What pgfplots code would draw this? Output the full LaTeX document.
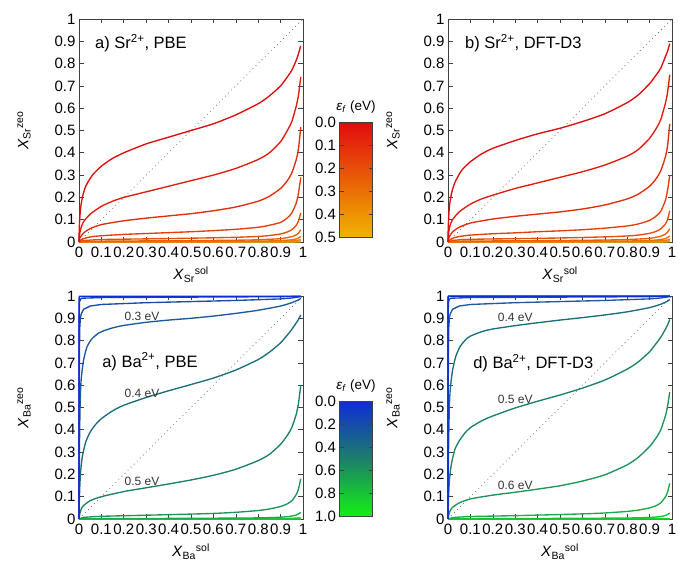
\documentclass[border=0pt]{standalone}
\usepackage{fontspec}
\setmainfont{Liberation Sans}
\usepackage{pgfplots}
\pgfplotsset{compat=1.18}
\definecolor{sr0}{RGB}{222,12,15}
\definecolor{sr1}{RGB}{225,27,14}
\definecolor{sr2}{RGB}{228,44,12}
\definecolor{sr3}{RGB}{231,61,11}
\definecolor{sr4}{RGB}{233,78,9}
\definecolor{sr5}{RGB}{234,95,8}
\definecolor{sr6}{RGB}{235,112,6}
\definecolor{sr7}{RGB}{236,129,5}
\definecolor{sr8}{RGB}{238,146,3}
\definecolor{sr9}{RGB}{239,163,2}
\definecolor{sr10}{RGB}{240,180,0}
\definecolor{ba0}{RGB}{15,45,215}
\definecolor{ba1}{RGB}{18,61,193}
\definecolor{ba2}{RGB}{22,76,171}
\definecolor{ba3}{RGB}{28,90,160}
\definecolor{ba4}{RGB}{28,110,126}
\definecolor{ba5}{RGB}{29,128,106}
\definecolor{ba6}{RGB}{27,149,89}
\definecolor{ba7}{RGB}{25,172,72}
\definecolor{ba8}{RGB}{24,195,55}
\definecolor{ba9}{RGB}{22,217,37}
\definecolor{ba10}{RGB}{20,240,20}
\newcommand\ticksize{\fontsize{15}{18}\selectfont}
\pgfplotsset{
 colorbar/width=33pt,
 panel/.style={
  scale only axis, width=224pt, height=223pt,
  xmin=0, xmax=1, ymin=0, ymax=1,
  xtick={0,0.1,0.2,0.3,0.4,0.5,0.6,0.7,0.8,0.9,1},
  xticklabels={0,0.1,0.2,0.3,0.4,0.5,0.6,0.7,0.8,0.9,1},
  ytick={0,0.1,0.2,0.3,0.4,0.5,0.6,0.7,0.8,0.9,1},
  yticklabels={0,0.1,0.2,0.3,0.4,0.5,0.6,0.7,0.8,0.9,1},
  tick align=inside, xtick pos=both, ytick pos=both,
  major tick length=4.5pt,
  tick label style={font=\ticksize},
  xticklabel style={yshift=-1.5pt},
  label style={font=\ticksize},
  ylabel style={at={(axis description cs:-0.245,0.5)}, anchor=center},
  xlabel style={at={(axis description cs:0.5,-0.097)}, anchor=north},
  axis line style={line width=0.7pt, black!75},
  every tick/.append style={line width=0.6pt, black!75},
  clip=false,
  every axis plot/.append style={line width=1.35pt, no markers},
 },
 sm/.style={smooth, tension=0.4},
 diag/.style={black!55, line width=0.8pt, dash pattern=on 0.8pt off 3.5pt},
 cbar/.style={colorbar style={at={(parent axis.north east)}, anchor=north west,
   xshift=28pt, yshift=#1, scale only axis, height=115pt,
   y dir=reverse, yticklabel pos=left, ytick pos=both, tick align=inside,
   major tick length=4pt, tick label style={font=\ticksize},
   axis line style={line width=0.7pt, black!75},
   every tick/.append style={line width=0.6pt, black!75},
   title={\textit{ε}\textsubscript{\textit{f}} (eV)},
   title style={font=\fontsize{13.5}{16}\selectfont, at={(0.5,1)}, anchor=south, yshift=-1pt}}},
}
\begin{document}
\begin{tikzpicture}[x=1pt,y=1pt]
\path[use as bounding box] (0,0) rectangle (678,562);
% ---------------- a) Sr PBE
\begin{axis}[panel, at={(79pt,543pt)}, anchor=north west,
  xlabel={\textit{X}\textsubscript{Sr}\textsuperscript{sol}}, ylabel={\textit{X}\textsubscript{Sr}\textsuperscript{zeo}},
  colormap={srmap}{rgb255=(226,10,15) rgb255=(240,180,0)},
  colorbar, point meta min=0, point meta max=0.5, cbar=-103pt,
  colorbar style={ytick={0,0.1,0.2,0.3,0.4,0.5}, yticklabels={0.0,0.1,0.2,0.3,0.4,0.5}}]
\addplot[diag] coordinates {(0,0) (1,1)};
\addplot[sr10] coordinates {(0,0) (0.9,0.0002) (0.99,0.001)};
\addplot[sr9] coordinates {(0,0) (0.9,0.0006) (0.98,0.0015) (0.99,0.002)};
\addplot[sr8] coordinates {(0,0) (0.5,0.0005) (0.9,0.0013) (0.95,0.002) (0.98,0.0035) (0.99,0.005)};
\addplot[sr7] coordinates {(0,0) (0.5,0.001) (0.8,0.002) (0.9,0.003) (0.95,0.005) (0.98,0.008) (0.99,0.012)};
\addplot[sr6,sm] coordinates {(0,0) (0.1,0.0015) (0.5,0.0025) (0.8,0.004) (0.9,0.0065) (0.95,0.01) (0.97,0.014) (0.98,0.018) (0.99,0.025)};
\addplot[sr5,sm] coordinates {(0,0) (0.05,0.003) (0.3,0.005) (0.5,0.006) (0.7,0.008) (0.8,0.01) (0.9,0.015) (0.95,0.024) (0.97,0.032) (0.98,0.04) (0.99,0.055)};
\addplot[sr4,sm] coordinates {(0,0) (0.02,0.006) (0.1,0.011) (0.3,0.014) (0.5,0.017) (0.7,0.021) (0.8,0.025) (0.85,0.029) (0.9,0.036) (0.93,0.045) (0.95,0.055) (0.97,0.075) (0.98,0.095) (0.99,0.13)};
\addplot[sr3,sm] coordinates {(0,0) (0.01,0.01) (0.03,0.018) (0.06,0.024) (0.1,0.028) (0.2,0.034) (0.3,0.038) (0.4,0.042) (0.5,0.046) (0.6,0.051) (0.7,0.057) (0.8,0.066) (0.85,0.075) (0.9,0.088) (0.93,0.108) (0.95,0.13) (0.97,0.175) (0.98,0.22) (0.99,0.29)};
\addplot[sr2,sm] coordinates {(0,0) (0.005,0.02) (0.02,0.04) (0.05,0.06) (0.1,0.078) (0.2,0.095) (0.3,0.107) (0.4,0.117) (0.5,0.127) (0.6,0.14) (0.7,0.157) (0.8,0.183) (0.85,0.205) (0.9,0.24) (0.93,0.275) (0.95,0.31) (0.97,0.37) (0.98,0.42) (0.99,0.515)};
\addplot[sr1,sm] coordinates {(0,0) (0.002,0.03) (0.008,0.06) (0.02,0.09) (0.05,0.125) (0.1,0.16) (0.15,0.183) (0.2,0.20) (0.3,0.225) (0.4,0.25) (0.5,0.275) (0.6,0.30) (0.7,0.33) (0.8,0.37) (0.85,0.40) (0.9,0.45) (0.93,0.50) (0.95,0.54) (0.97,0.61) (0.98,0.66) (0.99,0.74)};
\addplot[sr0,sm] coordinates {(0,0) (0.001,0.05) (0.003,0.1) (0.007,0.15) (0.015,0.2) (0.03,0.25) (0.06,0.3) (0.1,0.34) (0.15,0.375) (0.2,0.40) (0.3,0.44) (0.4,0.47) (0.5,0.50) (0.6,0.53) (0.7,0.57) (0.8,0.62) (0.85,0.655) (0.9,0.70) (0.93,0.74) (0.95,0.77) (0.97,0.815) (0.98,0.845) (0.99,0.88)};
\node[anchor=west, inner sep=0pt, font=\fontsize{16.5}{19}\selectfont] at (axis description cs:0.071,0.892) {a) Sr\textsuperscript{2+}, PBE};
\end{axis}
% ---------------- b) Sr DFT-D3
\begin{axis}[panel, at={(448pt,543pt)}, anchor=north west,
  xlabel={\textit{X}\textsubscript{Sr}\textsuperscript{sol}}, ylabel={\textit{X}\textsubscript{Sr}\textsuperscript{zeo}}]
\addplot[diag] coordinates {(0,0) (1,1)};
\addplot[sr10] coordinates {(0,0) (0.9,0.0003) (0.99,0.001)};
\addplot[sr9] coordinates {(0,0) (0.9,0.0008) (0.98,0.0018) (0.99,0.0025)};
\addplot[sr8] coordinates {(0,0) (0.5,0.0006) (0.9,0.0016) (0.95,0.0025) (0.98,0.004) (0.99,0.006)};
\addplot[sr7] coordinates {(0,0) (0.5,0.0012) (0.8,0.0023) (0.9,0.0035) (0.95,0.0055) (0.98,0.009) (0.99,0.013)};
\addplot[sr6,sm] coordinates {(0,0) (0.1,0.0017) (0.5,0.0028) (0.8,0.0045) (0.9,0.007) (0.95,0.011) (0.97,0.015) (0.98,0.02) (0.99,0.027)};
\addplot[sr5,sm] coordinates {(0,0) (0.05,0.0035) (0.3,0.0055) (0.5,0.0066) (0.7,0.0088) (0.8,0.011) (0.9,0.0165) (0.95,0.026) (0.97,0.035) (0.98,0.044) (0.99,0.06)};
\addplot[sr4,sm] coordinates {(0,0) (0.02,0.007) (0.1,0.012) (0.3,0.015) (0.5,0.018) (0.7,0.023) (0.8,0.027) (0.85,0.031) (0.9,0.039) (0.93,0.048) (0.95,0.059) (0.97,0.08) (0.98,0.1) (0.99,0.14)};
\addplot[sr3,sm] coordinates {(0,0) (0.01,0.011) (0.03,0.02) (0.06,0.026) (0.1,0.031) (0.2,0.037) (0.3,0.041) (0.4,0.046) (0.5,0.05) (0.6,0.055) (0.7,0.062) (0.8,0.072) (0.85,0.081) (0.9,0.097) (0.93,0.117) (0.95,0.138) (0.97,0.185) (0.98,0.23) (0.99,0.30)};
\addplot[sr2,sm] coordinates {(0,0) (0.005,0.022) (0.02,0.045) (0.05,0.066) (0.1,0.085) (0.2,0.103) (0.3,0.115) (0.4,0.125) (0.5,0.135) (0.6,0.148) (0.7,0.166) (0.8,0.193) (0.85,0.215) (0.9,0.25) (0.93,0.285) (0.95,0.32) (0.97,0.38) (0.98,0.43) (0.99,0.53)};
\addplot[sr1,sm] coordinates {(0,0) (0.002,0.035) (0.008,0.07) (0.02,0.1) (0.05,0.135) (0.1,0.17) (0.15,0.193) (0.2,0.21) (0.3,0.24) (0.4,0.265) (0.5,0.29) (0.6,0.315) (0.7,0.345) (0.8,0.385) (0.85,0.415) (0.9,0.465) (0.93,0.51) (0.95,0.55) (0.97,0.62) (0.98,0.67) (0.99,0.75)};
\addplot[sr0,sm] coordinates {(0,0) (0.001,0.06) (0.003,0.11) (0.007,0.165) (0.015,0.215) (0.03,0.265) (0.06,0.32) (0.1,0.36) (0.15,0.395) (0.2,0.42) (0.3,0.455) (0.4,0.485) (0.5,0.51) (0.6,0.54) (0.7,0.575) (0.8,0.625) (0.85,0.66) (0.9,0.71) (0.93,0.75) (0.95,0.78) (0.97,0.83) (0.98,0.855) (0.99,0.89)};
\node[anchor=west, inner sep=0pt, font=\fontsize{16.5}{19}\selectfont] at (axis description cs:0.076,0.892) {b) Sr\textsuperscript{2+}, DFT-D3};
\end{axis}
% ---------------- c) Ba PBE
\begin{axis}[panel, at={(79pt,266pt)}, anchor=north west,
  xlabel={\textit{X}\textsubscript{Ba}\textsuperscript{sol}}, ylabel={\textit{X}\textsubscript{Ba}\textsuperscript{zeo}},
  colormap={bamap}{rgb255=(15,45,215) rgb255=(23,84,160) rgb255=(29,126,106) rgb255=(25,184,63) rgb255=(20,240,20)},
  colorbar, point meta min=0, point meta max=1, cbar=-105pt,
  colorbar style={ytick={0,0.2,0.4,0.6,0.8,1}, yticklabels={0.0,0.2,0.4,0.6,0.8,1.0}}]
\addplot[diag] coordinates {(0,0) (1,1)};
\addplot[ba10] coordinates {(0,0) (0.99,0.0002)};
\addplot[ba9] coordinates {(0,0) (0.99,0.0008)};
\addplot[ba8] coordinates {(0,0) (0.5,0.0004) (0.9,0.001) (0.99,0.005)};
\addplot[ba7,sm] coordinates {(0,0) (0.1,0.0015) (0.5,0.003) (0.8,0.005) (0.9,0.008) (0.95,0.013) (0.97,0.018) (0.98,0.023) (0.99,0.03)};
\addplot[ba6,sm] coordinates {(0,0) (0.02,0.007) (0.1,0.012) (0.3,0.017) (0.5,0.022) (0.6,0.025) (0.7,0.03) (0.8,0.038) (0.85,0.045) (0.9,0.056) (0.93,0.068) (0.95,0.082) (0.97,0.11) (0.98,0.135) (0.99,0.18)};
\addplot[ba5,sm] coordinates {(0,0) (0.005,0.03) (0.01,0.045) (0.02,0.06) (0.05,0.082) (0.1,0.1) (0.2,0.123) (0.3,0.14) (0.4,0.157) (0.5,0.175) (0.6,0.196) (0.7,0.223) (0.8,0.262) (0.85,0.29) (0.9,0.335) (0.93,0.375) (0.95,0.41) (0.97,0.47) (0.98,0.52) (0.99,0.6)};
\addplot[ba4,sm] coordinates {(0,0) (0.001,0.06) (0.003,0.13) (0.007,0.21) (0.015,0.28) (0.03,0.345) (0.05,0.39) (0.075,0.425) (0.1,0.45) (0.15,0.485) (0.2,0.51) (0.3,0.545) (0.4,0.575) (0.5,0.603) (0.6,0.632) (0.7,0.668) (0.8,0.715) (0.85,0.748) (0.9,0.79) (0.93,0.825) (0.95,0.85) (0.97,0.88) (0.98,0.895) (0.99,0.915)};
\addplot[ba3,sm] coordinates {(0,0) (0.001,0.18) (0.003,0.4) (0.006,0.55) (0.01,0.63) (0.02,0.71) (0.035,0.77) (0.055,0.805) (0.08,0.828) (0.1,0.84) (0.15,0.857) (0.2,0.868) (0.3,0.882) (0.4,0.892) (0.5,0.9) (0.6,0.91) (0.7,0.922) (0.8,0.936) (0.9,0.955) (0.95,0.97) (0.98,0.983) (0.99,0.99)};
\addplot[ba2] coordinates {(0,0) (0.001,0.6) (0.003,0.85) (0.006,0.9) (0.01,0.92) (0.02,0.94) (0.05,0.955) (0.1,0.962) (0.2,0.966) (0.3,0.97) (0.5,0.975) (0.7,0.98) (0.9,0.987) (0.95,0.991) (0.99,0.997)};
\addplot[ba1] coordinates {(0,0) (0.0005,0.9) (0.002,0.975) (0.01,0.99) (0.1,0.993) (0.5,0.995) (0.9,0.997) (0.99,0.999)};
\addplot[ba0] coordinates {(0,0) (0.0003,0.99) (0.002,0.999) (0.99,0.999)};
\node[anchor=west, inner sep=0pt, font=\fontsize{16.5}{19}\selectfont] at (axis description cs:0.103,0.705) {a) Ba\textsuperscript{2+}, PBE};
\node[font=\fontsize{12}{14}\selectfont, text=black!80] at (axis cs:0.281,0.91) {0.3 eV};
\node[font=\fontsize{12}{14}\selectfont, text=black!80] at (axis cs:0.281,0.5625) {0.4 eV};
\node[font=\fontsize{12}{14}\selectfont, text=black!80] at (axis cs:0.281,0.17) {0.5 eV};
\end{axis}
% ---------------- d) Ba DFT-D3
\begin{axis}[panel, at={(448pt,266pt)}, anchor=north west,
  xlabel={\textit{X}\textsubscript{Ba}\textsuperscript{sol}}, ylabel={\textit{X}\textsubscript{Ba}\textsuperscript{zeo}}]
\addplot[diag] coordinates {(0,0) (1,1)};
\addplot[ba10] coordinates {(0,0) (0.99,0.0003)};
\addplot[ba9] coordinates {(0,0) (0.99,0.001)};
\addplot[ba8,sm] coordinates {(0,0) (0.1,0.0013) (0.5,0.0027) (0.8,0.0045) (0.9,0.007) (0.95,0.011) (0.97,0.016) (0.98,0.02) (0.99,0.027)};
\addplot[ba7,sm] coordinates {(0,0) (0.02,0.006) (0.1,0.011) (0.3,0.015) (0.5,0.02) (0.6,0.023) (0.7,0.027) (0.8,0.034) (0.85,0.04) (0.9,0.05) (0.93,0.06) (0.95,0.073) (0.97,0.098) (0.98,0.12) (0.99,0.16)};
\addplot[ba6,sm] coordinates {(0,0) (0.005,0.025) (0.01,0.038) (0.02,0.052) (0.05,0.072) (0.1,0.09) (0.2,0.107) (0.3,0.12) (0.4,0.134) (0.5,0.149) (0.6,0.17) (0.7,0.198) (0.8,0.243) (0.85,0.277) (0.9,0.325) (0.93,0.365) (0.95,0.4) (0.97,0.46) (0.98,0.505) (0.99,0.57)};
\addplot[ba5,sm] coordinates {(0,0) (0.001,0.04) (0.003,0.11) (0.007,0.18) (0.015,0.245) (0.03,0.31) (0.05,0.35) (0.075,0.385) (0.1,0.41) (0.15,0.44) (0.2,0.462) (0.3,0.498) (0.4,0.528) (0.5,0.556) (0.6,0.587) (0.7,0.623) (0.8,0.672) (0.85,0.705) (0.9,0.75) (0.93,0.788) (0.95,0.815) (0.97,0.85) (0.98,0.87) (0.99,0.895)};
\addplot[ba4,sm] coordinates {(0,0) (0.001,0.15) (0.003,0.35) (0.006,0.5) (0.01,0.58) (0.02,0.665) (0.035,0.73) (0.055,0.775) (0.08,0.805) (0.1,0.82) (0.15,0.84) (0.2,0.852) (0.3,0.867) (0.4,0.88) (0.5,0.892) (0.6,0.903) (0.7,0.915) (0.8,0.929) (0.9,0.948) (0.95,0.963) (0.98,0.977) (0.99,0.985)};
\addplot[ba3] coordinates {(0,0) (0.001,0.6) (0.003,0.85) (0.006,0.9) (0.01,0.92) (0.02,0.94) (0.05,0.955) (0.1,0.962) (0.2,0.966) (0.3,0.97) (0.5,0.975) (0.7,0.98) (0.9,0.987) (0.95,0.991) (0.99,0.997)};
\addplot[ba2] coordinates {(0,0) (0.0005,0.9) (0.002,0.975) (0.01,0.99) (0.1,0.993) (0.5,0.995) (0.9,0.997) (0.99,0.999)};
\addplot[ba1] coordinates {(0,0) (0.0003,0.99) (0.002,0.999) (0.99,0.999)};
\addplot[ba0] coordinates {(0,0) (0.0002,0.995) (0.002,0.9995) (0.99,0.9995)};
\node[anchor=west, inner sep=0pt, font=\fontsize{16.5}{19}\selectfont] at (axis description cs:0.112,0.70) {d) Ba\textsuperscript{2+}, DFT-D3};
\node[font=\fontsize{12}{14}\selectfont, text=black!80] at (axis cs:0.30,0.904) {0.4 eV};
\node[font=\fontsize{12}{14}\selectfont, text=black!80] at (axis cs:0.30,0.538) {0.5 eV};
\node[font=\fontsize{12}{14}\selectfont, text=black!80] at (axis cs:0.30,0.152) {0.6 eV};
\end{axis}
\end{tikzpicture}
\end{document}
